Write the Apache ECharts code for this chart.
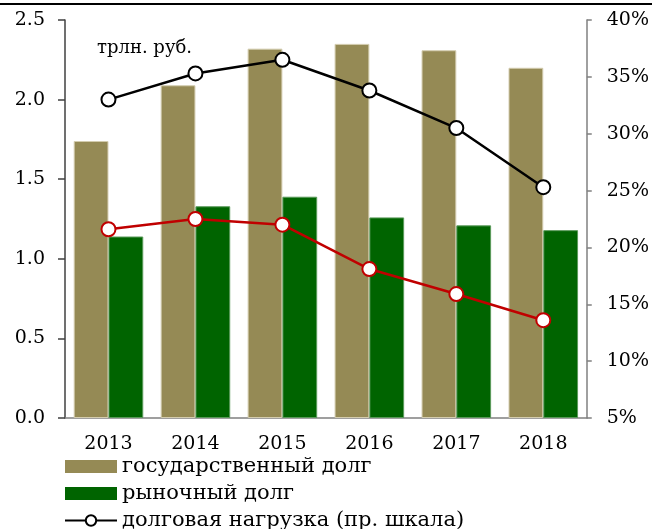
<!DOCTYPE html>
<html>
<head>
<meta charset="utf-8">
<script src="https://cdn.jsdelivr.net/npm/echarts@6/dist/echarts.min.js"></script>
<style>
  html, body { margin: 0; padding: 0; background: #fff; }
  #debtChart { width: 652px; height: 529px; }
</style>
</head>
<body>
<div id="debtChart"></div>
<script>
// данные
var years = ['2013', '2014', '2015', '2016', '2017', '2018']
var stateDebt = [1.74, 2.09, 2.32, 2.35, 2.31, 2.20]      // трлн. руб.
var marketDebt = [1.14, 1.33, 1.39, 1.26, 1.21, 1.18]     // трлн. руб.
var debtBurden = [33.0, 35.3, 36.5, 33.8, 30.5, 25.3]     // %, пр. шкала
var marketBurden = [21.6, 22.5, 22.0, 18.1, 15.9, 13.6]   // %, пр. шкала
var leftTicks = [0, 2.5, 0.5]   // min, max, interval
var rightTicks = [5, 40, 5]

var font = 'DejaVu Serif'

var chart = echarts.init(document.getElementById('debtChart'))
chart.setOption({
  animation: false,
  textStyle: { fontFamily: font, color: '#000' },
  grid: { left: 65, right: 64, top: 20, bottom: 111 },
  graphic: [
    { type: 'line', shape: { x1: 0, y1: 4, x2: 652, y2: 4 }, style: { stroke: '#000', lineWidth: 2 } },
    { type: 'text', left: 97, top: 39, style: { text: 'трлн. руб.', font: '18px "DejaVu Serif"', fill: '#000' } }
  ],
  legend: {
    orient: 'vertical',
    left: 64,
    top: 456,
    height: 200,
    padding: 0,
    itemWidth: 52,
    itemHeight: 13,
    itemGap: 6,
    textStyle: { fontFamily: font, fontSize: 21, color: '#000' },
    data: [
      { name: 'государственный долг', icon: 'rect', itemStyle: { borderWidth: 0 } },
      { name: 'рыночный долг', icon: 'rect', itemStyle: { borderWidth: 0 } },
      { name: 'долговая нагрузка (пр. шкала)', itemStyle: { color: '#fff', borderColor: '#000', borderWidth: 2 } }
    ]
  },
  xAxis: {
    type: 'category',
    data: years,
    axisLine: { lineStyle: { color: '#808080', width: 1.5 } },
    axisTick: { show: false },
    axisLabel: { color: '#000', fontSize: 19, fontFamily: font, margin: 17 }
  },
  yAxis: [
    {
      type: 'value',
      min: leftTicks[0], max: leftTicks[1], interval: leftTicks[2],
      axisLine: { show: true, lineStyle: { color: '#404040', width: 1.5 } },
      axisTick: { show: true, length: 7, lineStyle: { color: '#404040', width: 1.5 } },
      splitLine: { show: false },
      axisLabel: { color: '#000', fontSize: 19, fontFamily: font, margin: 20, formatter: function (v) { return v.toFixed(1) } }
    },
    {
      type: 'value',
      min: rightTicks[0], max: rightTicks[1], interval: rightTicks[2],
      axisLine: { show: true, lineStyle: { color: '#808080', width: 1.5 } },
      axisTick: { show: true, length: 5, lineStyle: { color: '#808080', width: 1.5 } },
      splitLine: { show: false },
      axisLabel: { color: '#000', fontSize: 19, fontFamily: font, margin: 20, formatter: '{value}%' }
    }
  ],
  series: [
    {
      name: 'государственный долг',
      type: 'bar',
      data: stateDebt,
      barGap: '0%',
      barCategoryGap: '20%',
      itemStyle: { color: '#958a55', borderColor: '#d4cdb0', borderWidth: 1 }
    },
    {
      name: 'рыночный долг',
      type: 'bar',
      data: marketDebt,
      barGap: '0%',
      barCategoryGap: '20%',
      itemStyle: { color: '#006400', borderColor: '#5a9a5a', borderWidth: 1 }
    },
    {
      name: 'долговая нагрузка (пр. шкала)',
      type: 'line',
      yAxisIndex: 1,
      data: debtBurden,
      symbol: 'circle',
      symbolSize: 14,
      lineStyle: { color: '#000', width: 2.5 },
      itemStyle: { color: '#fff', borderColor: '#000', borderWidth: 2 },
      z: 5
    },
    {
      name: 'нагрузка рыночного долга',
      type: 'line',
      yAxisIndex: 1,
      data: marketBurden,
      symbol: 'circle',
      symbolSize: 14,
      lineStyle: { color: '#c00000', width: 2.5 },
      itemStyle: { color: '#fff', borderColor: '#c00000', borderWidth: 2 },
      z: 5
    }
  ]
})
</script>
</body>
</html>
